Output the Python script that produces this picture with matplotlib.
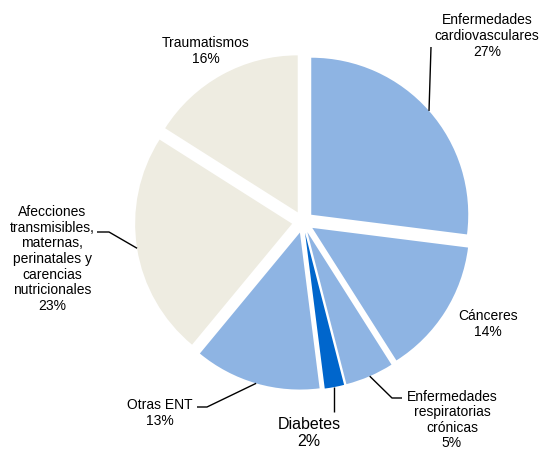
import numpy as np
import matplotlib
matplotlib.use("Agg")
import matplotlib.pyplot as plt

plt.rcParams['font.family'] = ['Liberation Sans', 'DejaVu Sans']

labels = ["Enfermedades\ncardiovasculares", "Cánceres", "Enfermedades\nrespiratorias\ncrónicas",
          "Diabetes", "Otras ENT",
          "Afecciones\ntransmisibles,\nmaternas,\nperinatales y\ncarencias\nnutricionales",
          "Traumatismos"]
values = [27, 14, 5, 2, 13, 23, 16]
colors = ["#8EB4E3", "#8EB4E3", "#8EB4E3", "#0066CC", "#8EB4E3", "#EEECE1", "#EEECE1"]

W, H = 542, 450
CX, CY, R = 303, 222, 157
EXPLODE = 0.07

fig = plt.figure(figsize=(W / 100, H / 100), dpi=100)
ax = fig.add_axes([0, 0, 1, 1])
ax.pie(values, colors=colors, startangle=90, counterclock=False,
       explode=[EXPLODE] * len(values), radius=1,
       wedgeprops=dict(linewidth=0))
ax.set_aspect('equal')
ax.set_xlim(-CX / R, (W - CX) / R)
ax.set_ylim(-(H - CY) / R, CY / R)
ax.axis('off')


def p2d(px, py):
    return ((px - CX) / R, (CY - py) / R)


# label layout: (center px, leader text-side points px, fontsize)
layout = [
    ((487, 36), [(431, 47)], 10),
    ((488, 324), None, 10),
    ((452, 420), [(402, 398), (392, 398)], 10),
    ((309, 433), [(334, 412)], 11.5),
    ((160, 413), [(197, 407), (207, 407)], 10),
    ((52, 259), [(97, 232), (109, 232)], 10),
    ((206, 51), None, 10),
]

total = sum(values)
cum = 0
for lab, v, (c, leader, fs) in zip(labels, values, layout):
    mid = 90 - (cum + v / 2) / total * 360
    cum += v
    a = np.deg2rad(mid)
    tx, ty = p2d(*c)
    ax.text(tx, ty, f"{lab}\n{v}%", ha='center', va='center',
            multialignment='center', fontsize=fs, color='black',
            linespacing=1.15)
    if leader:
        pts = [p2d(*p) for p in leader]
        edge = ((1 + EXPLODE) * np.cos(a), (1 + EXPLODE) * np.sin(a))
        if len(pts) == 1 and leader[0][0] == 334:
            edge = (pts[0][0], edge[1])
        pts.append(edge)
        xs, ys = zip(*pts)
        ax.plot(xs, ys, color='black', lw=1, solid_capstyle='butt')

fig.savefig("out.png", dpi=100)
